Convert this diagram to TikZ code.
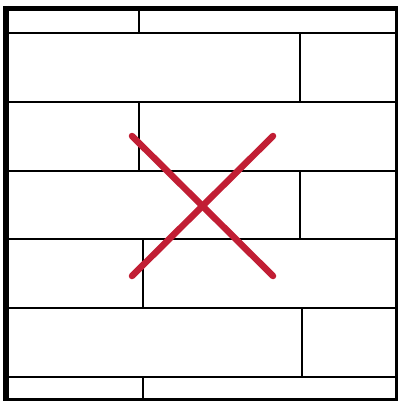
\documentclass[tikz,border=0pt]{standalone}
\definecolor{crossred}{RGB}{193,30,52}
\begin{document}
\begin{tikzpicture}[
    x=1pt,
    y=-1pt,
    seam/.style={
        draw=black,
        line width=2pt
    },
    edge/.style={
        draw=black,
        line width=3pt
    },
    cross/.style={
        draw=crossred,
        line width=6.5pt,
        line cap=round
    }
]

\useasboundingbox (0,0) rectangle (398,401);

% horizontal seams between the planks
\foreach \y in {33,102,171,239,308,377} {
    \draw[seam] (6,\y) -- (396.5,\y);
}

% vertical joints, one per row
\foreach \x/\top/\bottom in {
    139/9/33,
    300/33/102,
    139/102/171,
    300/171/239,
    143/239/308,
    302/308/377,
    143/377/399
} {
    \draw[seam] (\x,\top) -- (\x,\bottom);
}

% frame
\draw[edge] (396.5,8.5) -- (396.5,399.5) -- (6,399.5);
\draw[draw=black, line width=5pt] (3,8.5) -- (398,8.5);
\draw[draw=black, line width=6pt] (6,6) -- (6,401);

% the cross
\coordinate (topleft) at (132,136);
\coordinate (topright) at (273,136);
\coordinate (bottomleft) at (132,276);
\coordinate (bottomright) at (273,276);

\draw[cross] (topleft) -- (bottomright);
\draw[cross] (topright) -- (bottomleft);

\end{tikzpicture}
\end{document}
